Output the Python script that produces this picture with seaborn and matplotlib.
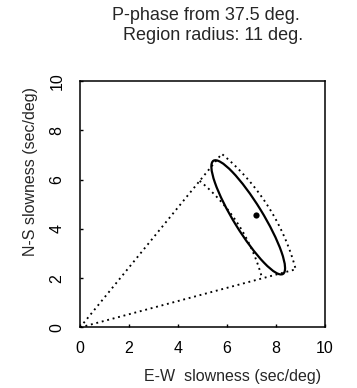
import numpy as np
import pandas as pd
import matplotlib
matplotlib.use("Agg")
import matplotlib.pyplot as plt
from matplotlib.patches import Ellipse
import seaborn as sns

# Slowness-space search region (azimuth from north, slowness range)
region_azimuth = [39.4, 75.0]        # deg
region_slowness = [7.7, 9.12]         # sec/deg

# Error ellipse of the slowness estimate
ellipse_center = [6.87, 4.47]
ellipse_axes = [5.4, 1.18]            # full major / minor lengths
ellipse_angle = -58.3                 # deg

# Best slowness estimate
best_ew = [7.17]
best_ns = [4.57]

x_ticks = [0, 2, 4, 6, 8, 10]
y_ticks = [0, 2, 4, 6, 8, 10]

sns.set_theme(style="ticks")
plt.rcParams["font.family"] = ["Liberation Sans", "DejaVu Sans"]

fig = plt.figure(figsize=(3.57, 3.88), dpi=100)
ax = fig.add_axes([0.224, 0.156, 0.686, 0.635])


def arc(r, a0, a1, n=60):
    az = np.radians(np.linspace(a0, a1, n))
    return r * np.sin(az), r * np.cos(az)


dotted = dict(color="black", lw=1.35, linestyle=(0, (1, 2.0)))

# outer wedge: origin -> upper ray -> outer arc -> lower ray -> origin
ox, oy = arc(region_slowness[1], *region_azimuth)
wedge = pd.DataFrame({
    "ew": np.concatenate([[0], ox, [0]]),
    "ns": np.concatenate([[0], oy, [0]]),
})
sns.lineplot(data=wedge, x="ew", y="ns", sort=False, estimator=None,
             ax=ax, **dotted)

# inner arc
ix, iy = arc(region_slowness[0], *region_azimuth)
inner = pd.DataFrame({"ew": ix, "ns": iy})
sns.lineplot(data=inner, x="ew", y="ns", sort=False, estimator=None,
             ax=ax, **dotted)

ax.add_patch(Ellipse(ellipse_center, ellipse_axes[0], ellipse_axes[1],
                     angle=ellipse_angle, fill=False, ec="black", lw=1.6))

sns.scatterplot(x=best_ew, y=best_ns, color="black", s=20, ax=ax,
                edgecolor="black", linewidth=0)

ax.set_xlim(0, 10)
ax.set_ylim(0, 10)
ax.set_xticks(x_ticks)
ax.set_yticks(y_ticks)
ax.set_xlabel("")
ax.set_ylabel("")
for s in ax.spines.values():
    s.set_visible(True)
    s.set_linewidth(1.1)
    s.set_color("black")
ax.tick_params(length=2, width=1, direction="in", labelsize=11.5,
               colors="black")
ax.tick_params(axis="x", pad=10)
ax.tick_params(axis="y", pad=11, labelrotation=90)
for lbl in ax.get_yticklabels():
    lbl.set_va("center")

fig.text(206 / 357, 1 - 15 / 388, "P-phase from 37.5 deg.", ha="center",
         va="center", fontsize=13)
fig.text(213 / 357, 1 - 35 / 388, "Region radius: 11 deg.", ha="center",
         va="center", fontsize=13)
fig.text(233 / 357, 1 - 376 / 388, "E-W  slowness (sec/deg)", ha="center",
         va="center", fontsize=11.5)
fig.text(30 / 357, 1 - 172 / 388, "N-S slowness (sec/deg)", ha="center",
         va="center", rotation=90, fontsize=11.5)

fig.savefig("out.png", dpi=100)
